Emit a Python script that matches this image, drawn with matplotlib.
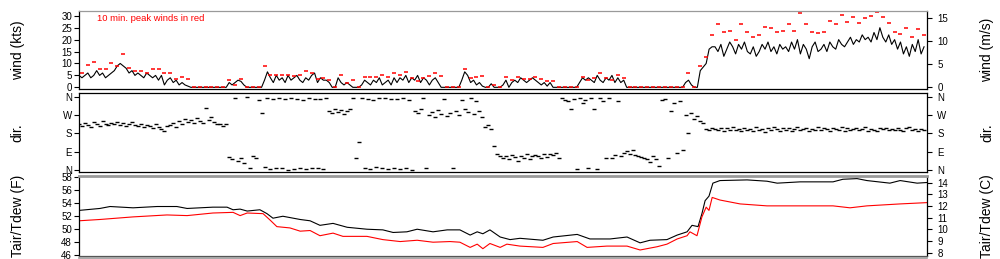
import numpy as np
import matplotlib
matplotlib.use('Agg')
import matplotlib.pyplot as plt

plt.rcParams['font.family'] = ['Liberation Sans', 'DejaVu Sans']

# wind speed (kts), 5-minute values over 24 h
wind_kts = [
    5, 4, 5, 6, 4, 5, 7, 5, 6, 4, 5, 6,
    7, 9, 10, 9, 8, 6, 7, 5, 6, 5, 4, 6,
    5, 4, 5, 3, 5, 1, 3, 4, 2, 3, 1, 2,
    1, 0.5, 0, 0, 0, 0, 0, 0, 0, 0, 0, 0,
    0, 0, 0, 2, 1, 2, 3, 2.5, 1, 0, 0, 0,
    0, 0, 0, 3, 6.5, 4, 2, 5, 3, 4, 2, 5,
    3, 4, 5, 3, 2, 4, 3, 5, 6, 2, 4, 3,
    3, 2, 0, 0, 4, 2, 1, 2, 1, 0, 0, 0,
    1, 3, 2, 1, 3, 2, 4, 1, 2, 3, 1, 4,
    2, 4, 3, 5, 2, 4, 3, 5, 2, 4, 3, 1,
    3, 4, 2, 0, 0, 0, 0, 0, 0, 0, 3, 6.5,
    5, 2, 3, 1, 2, 0.5, 0, 0, 1.5, 0, 0, 0,
    1, 3, 0, 2, 3, 2, 4, 3, 2, 3, 4, 3,
    2, 1, 2, 0.5, 2, 0, 0, 0, 0, 0, 0, 0,
    0, 0, 2, 4, 3, 4, 3, 2, 5, 3, 2, 4,
    3, 5, 2, 4, 2, 3, 0, 0, 0, 0, 0, 0,
    0, 0, 0, 0, 0, 0, 0, 0, 0, 0, 0, 0,
    0, 0, 2, 3, 1, 0, 0, 7, 8.5, 10, 16, 17,
    17, 15, 18, 13, 16, 19, 17, 14, 18, 16, 19, 15,
    14, 17, 13, 15, 18, 16, 19, 15, 17, 14, 18, 16,
    17, 15, 19, 16, 20, 14, 18, 16, 12, 17, 19, 15,
    16, 18, 15, 19, 17, 16, 20, 18, 17, 19, 21, 18,
    20, 19, 22, 20, 21, 19, 23, 20, 25, 21, 19, 22,
    18, 20, 16, 19, 14, 17, 13, 18, 15, 20, 14, 17,
]

# 10 min peak winds (kts)
peak_kts = [
    6.1, 9.2, 10.5, 7.5, 7.5, 10.2, 9, 13.8, 8.2, 7,
    7, 6.1, 7.5, 7.5, 5.9, 5.9, 3.5, 4.2, 3.4, 0,
    0, 0, 0, 0, 0, 3, 1, 3.4, 0, 0,
    0, 8.8, 5.3, 5.3, 5, 5, 4.7, 5.3, 7, 5.9,
    3.5, 4, 3, 0, 5.3, 2, 3.2, 0, 4.5, 4.5,
    4.5, 5.3, 4.5, 5.9, 5, 6.3, 3.9, 2.7, 3.9, 4.9,
    5.9, 4.7, 0, 0, 0, 7.5, 4, 4.5, 4.7, 0,
    1, 0, 4.5, 3.1, 4.5, 3.4, 3.4, 4.3, 3.6, 2.7,
    2.8, 0, 0, 0, 0, 4.5, 3, 4, 6, 3.8,
    3, 5, 3.7, 0, 0, 0, 0, 0, 0, 0,
    0, 0, 0, 6, 0, 8.8, 12.6, 21.8, 26.5, 23,
    23.7, 20, 26.4, 23, 21.3, 22, 25.5, 24.7, 23.4, 23.7,
    26.4, 23.7, 31, 26.4, 23, 22.6, 23, 27.7, 26.4, 30.4,
    27.2, 29.4, 26.8, 29, 29.8, 31.5, 29.4, 27, 23, 22.3,
    24.7, 21.3, 24.3, 22,
]

# wind direction (deg), 5-minute values
wind_dir = [
    224, 215, 230, 220, 210, 235, 225, 218, 240, 228, 222, 232,
    226, 238, 220, 230, 215, 225, 235, 222, 218, 228, 212, 220,
    215, 205, 225, 210, 200, 190, 215, 220, 230, 210, 240, 225,
    250, 235, 245, 230, 255, 240, 230, 305, 245, 260, 235, 228,
    225, 218, 225, 65, 55, 355, 45, 60, 35, 358, 10, 70,
    60, 345, 280, 15, 355, 5, 350, 10, 352, 8, 348, 2,
    355, 5, 350, 12, 345, 3, 355, 8, 350, 10, 348, 5,
    352, 290, 280, 300, 285, 295, 275, 290, 298, 355, 60, 140,
    355, 10, 350, 5, 345, 15, 352, 8, 355, 3, 348, 10,
    350, 5, 355, 12, 345, 2, 290, 280, 300, 355, 8, 270,
    285, 260, 295, 275, 350, 265, 280, 8, 290, 270, 345, 300,
    285, 355, 275, 340, 290, 260, 210, 220, 200, 120, 80, 70,
    60, 70, 55, 75, 65, 45, 70, 60, 80, 55, 68, 72,
    70, 60, 78, 65, 80, 72, 85, 60, 355, 345, 340, 300,
    350, 5, 355, 330, 345, 10, 352, 300, 5, 355, 340, 60,
    355, 60, 75, 340, 70, 85, 95, 80, 100, 75, 70, 65,
    60, 55, 40, 70, 55, 20, 345, 350, 60, 290, 330, 85,
    340, 100, 270, 180, 280, 250, 265, 240, 230, 200, 195, 205,
    200, 195, 208, 190, 205, 198, 212, 196, 203, 192, 207, 199,
    204, 194, 210, 198, 201, 189, 206, 197, 211, 200, 193, 205,
    198, 207, 192, 203, 213, 196, 201, 209, 194, 204, 199, 210,
    195, 206, 200, 191, 208, 202, 197, 212, 193, 205, 199, 203,
    207, 196, 201, 210, 194, 204, 198, 192, 206, 200, 209, 197,
    202, 195, 208, 199, 193, 206, 211, 198, 204, 190, 203, 197,
]

# air temperature (F)
tair_hours = [0, 0.59, 0.88, 1.53, 2.21, 2.77, 3.06, 3.79, 4.19, 4.36,
              4.56, 4.76, 5.12, 5.32, 5.49, 5.77, 6.26, 6.54, 6.82, 7.19,
              7.59, 8.15, 8.6, 8.89, 9.28, 9.57, 10.02, 10.42, 10.78, 11.07,
              11.27, 11.43, 11.63, 11.92, 12.2, 12.48, 13.13, 13.42, 14.1, 14.46,
              15.03, 15.51, 15.88, 16.16, 16.64, 16.93, 17.21, 17.35, 17.52, 17.63,
              17.72, 17.83, 17.94, 18.14, 18.91, 19.47, 19.76, 20.41, 21.34, 21.62,
              22.02, 22.3, 22.95, 23.24, 23.72, 24]
tair_f = [52.9, 53.2, 53.5, 53.3, 53.5, 53.5, 53.2, 53.4, 53.4, 53.0,
          53.1, 52.8, 53.0, 52.4, 51.7, 52.0, 51.5, 51.3, 50.6, 50.9,
          50.3, 50.0, 49.9, 49.5, 49.6, 50.0, 49.6, 49.9, 49.9, 49.1,
          49.6, 49.3, 49.9, 48.8, 48.4, 48.6, 48.3, 48.8, 49.2, 48.5,
          48.5, 48.8, 47.9, 48.3, 48.4, 49.1, 49.6, 50.6, 50.4, 52.4,
          54.4, 55.1, 57.1, 57.5, 57.6, 57.4, 57.1, 57.3, 57.3, 57.7,
          57.8, 57.5, 57.1, 57.5, 57.1, 57.2]

# dew point (F)
tdew_hours = [0, 0.59, 1.53, 2.49, 3.06, 3.79, 4.36, 4.56, 4.76, 5.21,
              5.41, 5.6, 5.97, 6.26, 6.54, 6.82, 7.19, 7.47, 8.15, 8.6,
              9.09, 9.57, 10.02, 10.5, 10.78, 11.07, 11.27, 11.43, 11.63, 11.92,
              12.11, 12.48, 13.13, 13.42, 14.1, 14.38, 14.94, 15.51, 15.88, 16.36,
              16.64, 16.93, 17.21, 17.29, 17.49, 17.63, 17.75, 17.83, 17.92, 18.14,
              18.71, 19.47, 20.41, 21.34, 21.82, 22.3, 23.24, 24]
tdew_f = [51.3, 51.5, 51.9, 52.2, 52.1, 52.5, 52.6, 52.1, 52.5, 52.4,
          51.4, 50.4, 50.2, 49.7, 49.8, 49.0, 49.4, 48.9, 48.9, 48.4,
          48.1, 48.3, 48.0, 48.1, 48.0, 47.2, 47.7, 47.0, 47.8, 47.2,
          47.7, 47.4, 47.2, 47.8, 48.1, 47.2, 47.4, 47.4, 46.8, 47.3,
          47.7, 48.5, 49.0, 49.6, 49.0, 51.9, 53.4, 52.9, 54.9, 54.5,
          53.9, 53.6, 53.6, 53.6, 53.3, 53.6, 53.9, 54.1]

dir_labels = ['N', 'E', 'S', 'W', 'N']

t5 = np.arange(len(wind_kts)) / 12.0
t10 = np.arange(len(peak_kts)) / 6.0 + 1 / 12.0

fig = plt.figure(figsize=(10, 2.59), dpi=100)
L, W = 0.079, 0.848
ax1 = fig.add_axes([L, 0.6564, W, 0.3011])
ax2 = fig.add_axes([L, 0.3347, W, 0.3050])
ax3 = fig.add_axes([L, 0.0135, W, 0.3069])
fs = 7
lab_fs = 10
lx, rx = -0.064, 1.063

def style(ax):
    ax.set_xlim(0, 24)
    ax.set_xticks([])
    ax.tick_params(axis='y', direction='out', length=3.5, width=0.8, labelsize=fs, pad=1.5)
    for s in ax.spines.values():
        s.set_linewidth(0.9)

def right_axis(ax, lo, hi, ticks, label, ticklabels=None):
    axr = ax.twinx()
    axr.set_ylim(lo, hi)
    axr.set_yticks(ticks)
    if ticklabels:
        axr.set_yticklabels(ticklabels)
    axr.tick_params(axis='y', direction='out', length=3.5, width=0.8, labelsize=fs, pad=4)
    axr.set_ylabel(label, fontsize=lab_fs)
    axr.yaxis.set_label_coords(rx, 0.5)
    for s in axr.spines.values():
        s.set_visible(False)
    return axr

# wind
style(ax1)
ax1.plot(t5, wind_kts, color='black', lw=0.8)
ax1.plot(t10, peak_kts, ls='none', marker='_', ms=2.6, mew=1.1, color='red')
ax1.set_ylim(-0.7, 32)
ax1.set_yticks([0, 5, 10, 15, 20, 25, 30])
ax1.set_ylabel('wind (kts)', fontsize=lab_fs)
ax1.yaxis.set_label_coords(lx, 0.5)
ax1.spines['top'].set_color('#9a9a9a')
ax1.text(0.021, 0.9, '10 min. peak winds in red', color='red', fontsize=6.8,
         transform=ax1.transAxes, va='center')
right_axis(ax1, -0.7 / 1.9438, 32 / 1.9438, [0, 5, 10, 15], 'wind (m/s)')

# direction
style(ax2)
ax2.plot(t5, wind_dir, ls='none', marker='_', ms=2.6, mew=1.0, color='black')
ax2.set_ylim(-11, 377)
ax2.set_yticks([0, 90, 180, 270, 360])
ax2.set_yticklabels(dir_labels)
ax2.set_ylabel('dir.', fontsize=lab_fs)
ax2.yaxis.set_label_coords(lx, 0.5)
right_axis(ax2, -11, 377, [0, 90, 180, 270, 360], 'dir.', dir_labels)

# temperature
style(ax3)
ax3.plot(tair_hours, tair_f, color='black', lw=0.8)
ax3.plot(tdew_hours, tdew_f, color='red', lw=0.8)
ax3.set_ylim(45.95, 58.2)
ax3.set_yticks([46, 48, 50, 52, 54, 56, 58])
ax3.set_ylabel('Tair/Tdew (F)', fontsize=lab_fs)
ax3.yaxis.set_label_coords(lx, 0.5)
ax3.spines['top'].set_color('#9a9a9a')
ax3.spines['top'].set_linewidth(2)
ax3.spines['bottom'].set_color('#555555')
right_axis(ax3, (45.95 - 32) / 1.8, (58.2 - 32) / 1.8, [8, 9, 10, 11, 12, 13, 14], 'Tair/Tdew (C)')

# top edge of the next panel, cut off by the image
fig.add_artist(plt.Line2D([L, L + W], [0.0045, 0.0045], color='#9a9a9a', lw=1.2))

fig.savefig('out.png', dpi=100)
